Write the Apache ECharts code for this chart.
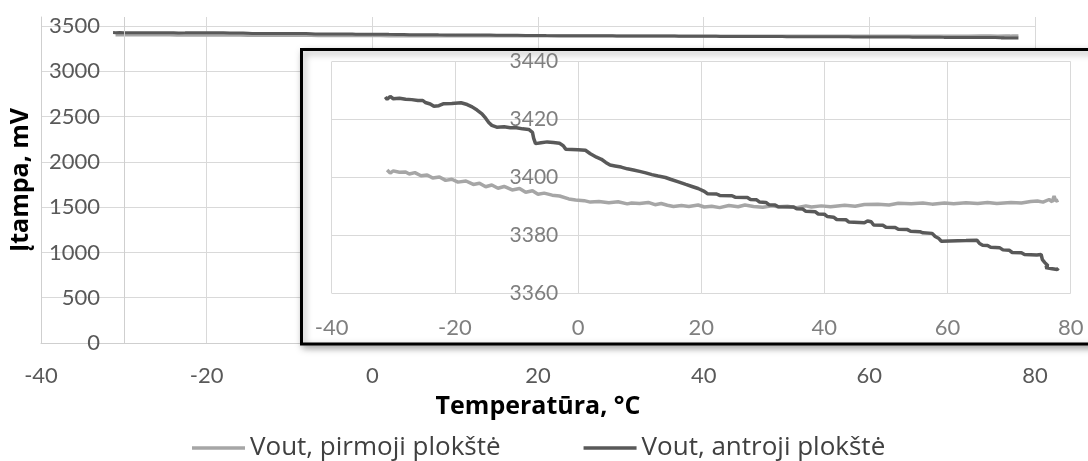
<!DOCTYPE html>
<html>
<head>
<meta charset="utf-8">
<script src="https://cdn.jsdelivr.net/npm/echarts@6/dist/echarts.min.js"></script>
<style>
  html, body { margin: 0; padding: 0; background: #fff; }
  #chart { width: 1088px; height: 461px; }
</style>
</head>
<body>
<div id="chart"></div>
<script>
// Series names, axis titles
const seriesNames = ['Vout, pirmoji plokštė', 'Vout, antroji plokštė'];
const xTitle = 'Temperatūra, °C';
const yTitle = 'Įtampa, mV';

// First board: temperature (°C) and output voltage (mV)
const plate1T = [-31.0, -30.5, -30.0, -29.0, -28.0, -27.4, -26.5, -25.5, -24.5, -23.6, -22.5, -21.5, -20.5, -19.5, -18.2,
  -17.0, -16.0, -15.0, -14.0, -13.0, -12.0, -10.7, -9.5, -8.5, -7.4, -6.5, -5.5, -4.2, -3.0, -1.5, -0.4,
  1.0, 2.0, 3.4, 5.0, 6.5, 8.0, 8.7, 10.0, 11.4, 12.5, 13.5, 14.5, 15.5, 16.8, 18.0, 19.5, 20.5, 21.7,
  23.0, 24.5, 26.0, 27.1, 28.5, 30.0, 31.5, 32.5, 34.0, 35.5, 37.0, 37.9, 39.5, 41.0, 43.3, 45.0, 46.5,
  48.7, 50.5, 52.0, 54.1, 56.0, 57.5, 59.5, 61.0, 63.0, 64.9, 66.5, 68.0, 70.3, 72.0, 73.5, 74.6, 75.5,
  76.5, 77.0, 77.3, 77.6, 78.0];
const plate1V = [3402.6, 3401.5, 3402.3, 3401.8, 3401.9, 3401.2, 3401.7, 3400.6, 3400.9, 3399.8, 3400.2, 3399.0, 3399.4, 3398.4, 3398.8,
  3397.6, 3398.0, 3396.8, 3397.4, 3396.3, 3396.9, 3395.7, 3396.2, 3394.9, 3395.4, 3394.2, 3394.6, 3393.9, 3393.6, 3392.6, 3392.2,
  3392.0, 3391.5, 3391.7, 3391.3, 3391.6, 3390.9, 3391.2, 3391.0, 3391.4, 3390.6, 3391.0, 3390.4, 3390.0, 3390.3, 3390.0, 3390.5, 3389.8, 3390.1,
  3389.6, 3390.3, 3389.9, 3390.5, 3390.0, 3389.7, 3390.2, 3389.9, 3390.1, 3389.6, 3390.2, 3389.8, 3390.2, 3389.9, 3390.4, 3390.1, 3390.7,
  3390.8, 3390.5, 3391.1, 3390.9, 3391.2, 3390.8, 3391.2, 3390.9, 3391.3, 3391.0, 3391.4, 3391.0, 3391.4, 3391.2, 3391.7, 3391.9, 3391.5,
  3392.4, 3391.6, 3393.6, 3391.8, 3392.2];

// Second board: temperature (°C) and output voltage (mV)
const plate2T = [-31.3, -31.0, -30.5, -30.0, -29.0, -28.0, -27.0, -26.0, -25.2, -24.8, -24.0, -23.4, -22.6, -21.8, -20.5,
  -19.0, -18.0, -17.2, -16.4, -15.6, -15.0, -14.5, -14.0, -13.2, -12.0, -11.0, -10.0, -9.0, -8.0, -7.4, -7.2,
  -6.9, -6.0, -5.0, -4.0, -3.0, -2.4, -2.0, -1.0, 0.0, 1.2, 2.0, 3.0, 3.8, 4.5, 5.2, 6.0, 7.0, 8.0, 9.0,
  10.0, 11.0, 12.0, 13.0, 14.2, 15.0, 16.3, 17.5, 18.5, 19.5,
  20.5, 21.0, 22.5, 23.0, 25.0, 25.5, 27.5, 28.0, 29.0, 29.5, 30.5, 31.0, 32.0, 32.5, 35.0, 35.5, 36.5, 37.0,
  38.5, 39.0, 40.0, 40.5, 41.5, 42.0, 43.5, 44.0, 46.5, 47.0, 47.6, 48.0, 49.5, 50.0, 51.5, 52.0, 53.5, 54.0,
  55.5, 56.0, 57.5, 58.0, 58.6, 59.0, 63.0, 64.8, 65.2, 65.7, 66.5, 67.0, 68.5, 69.0, 70.0, 70.5, 72.0, 72.5,
  74.5, 75.2, 75.4, 75.8, 76.3, 75.9, 77.0, 77.8, 78.0];
const plate2V = [3427.8, 3427.0, 3428.0, 3427.2, 3427.4, 3427.0, 3426.9, 3426.6, 3426.6, 3425.9, 3425.4, 3424.6, 3424.8, 3425.5, 3425.6,
  3425.8, 3425.2, 3424.4, 3423.3, 3422.0, 3420.5, 3419.0, 3418.0, 3417.4, 3417.5, 3417.2, 3417.2, 3416.8, 3416.6, 3415.6, 3413.5,
  3411.7, 3412.0, 3412.3, 3412.1, 3411.8, 3411.0, 3409.8, 3409.7, 3409.6, 3409.4, 3408.2, 3407.0, 3406.3, 3405.2, 3404.3, 3404.0, 3403.6, 3403.0, 3402.6,
  3402.1, 3401.6, 3401.0, 3400.5, 3400.0, 3399.4, 3398.5, 3397.6, 3396.9, 3396.2,
  3395.2, 3394.4, 3394.3, 3393.8, 3393.7, 3393.2, 3393.1, 3392.4, 3392.3, 3391.5, 3391.4, 3390.6, 3390.5, 3389.9, 3389.8, 3389.2, 3389.1, 3388.3,
  3388.2, 3387.4, 3387.3, 3386.5, 3386.3, 3385.5, 3385.4, 3384.6, 3384.4, 3385.0, 3384.7, 3383.6, 3383.5, 3382.8, 3382.7, 3382.1, 3382.0, 3381.4,
  3381.3, 3380.9, 3380.7, 3379.6, 3378.9, 3378.0, 3378.2, 3378.3, 3377.2, 3376.6, 3376.5, 3375.9, 3375.7, 3375.0, 3374.9, 3374.1, 3374.0, 3373.4,
  3373.2, 3373.4, 3371.6, 3370.6, 3369.5, 3368.9, 3368.5, 3368.2, 3368.7];

const pairs = (t, v) => t.map((x, i) => [x, v[i]]);
const plate1 = pairs(plate1T, plate1V);
const plate2 = pairs(plate2T, plate2V);

const FONT = 'Lato, "Open Sans", sans-serif';
const WIDE_FONT = '"Open Sans", Lato, sans-serif';
const GRID = '#d9d9d9';
const LIGHT = '#a6a6a6';
const DARK = '#595959';
const plain = v => String(v);
// thin horizontal bar used as the legend key
const LEGEND_KEY = 'path://M0,0 H53 V3.5 H0 Z';

const chart = echarts.init(document.getElementById('chart'), null, { renderer: 'canvas' });

chart.setOption({
  animation: false,
  textStyle: { fontFamily: FONT },
  grid: [
    { left: 41, right: 53, top: 17, bottom: 118, outerBoundsMode: 'none' },
    { left: 331.7, right: 17.3, top: 61.7, bottom: 167.7, outerBoundsMode: 'none' }
  ],
  legend: {
    data: seriesNames.map(n => ({ name: n, icon: LEGEND_KEY })),
    left: 187,
    top: 430,
    itemWidth: 53,
    itemHeight: 20,
    itemGap: 83,
    textStyle: { fontFamily: WIDE_FONT, fontSize: 26, color: '#404040' }
  },
  // Zoomed view frame with drop shadow
  graphic: {
    z: 5,
    elements: [{
      type: 'rect',
      z: 5,
      silent: true,
      shape: { x: 301.5, y: 49.5, width: 800, height: 294.5 },
      style: {
        fill: '#fff', stroke: '#000', lineWidth: 3,
        shadowBlur: 7, shadowOffsetX: 2, shadowOffsetY: 3, shadowColor: 'rgba(0,0,0,0.35)'
      }
    }]
  },
  xAxis: [
    {
      gridIndex: 0, type: 'value', min: -40, max: 80, interval: 20,
      axisLine: { lineStyle: { color: '#cfcfcf', width: 1 } },
      axisTick: { show: false },
      axisLabel: { color: DARK, fontSize: 22, margin: 22, fontFamily: FONT, formatter: plain },
      splitLine: { lineStyle: { color: GRID } },
      name: xTitle, nameLocation: 'middle', nameGap: 51,
      nameTextStyle: { color: '#000', fontWeight: 'bold', fontSize: 25, fontFamily: WIDE_FONT }
    },
    {
      gridIndex: 1, type: 'value', min: -40, max: 80, interval: 20, z: 10,
      axisLine: { show: false },
      axisTick: { show: false },
      axisLabel: { color: '#7f7f7f', fontSize: 22, margin: 24, fontFamily: FONT, formatter: plain },
      splitLine: { lineStyle: { color: GRID } }
    }
  ],
  yAxis: [
    {
      gridIndex: 0, type: 'value', min: 0, max: 3600, interval: 500,
      axisLine: { show: true, onZero: false, lineStyle: { color: '#cfcfcf' } },
      axisTick: { show: false },
      axisLabel: {
        inside: true, align: 'right', margin: 59, color: DARK, fontSize: 22, fontFamily: FONT,
        formatter: v => (v > 3500 ? '' : String(v))
      },
      splitLine: { lineStyle: { color: [GRID, GRID, GRID, GRID, GRID, GRID, GRID, GRID, 'rgba(0,0,0,0)'] } },
      name: yTitle, nameLocation: 'middle', nameGap: 2,
      nameTextStyle: { color: '#000', fontWeight: 'bold', fontSize: 25, fontFamily: WIDE_FONT }
    },
    {
      // value labels sit beside the 0 °C gridline
      gridIndex: 1, type: 'value', min: 3360, max: 3440, interval: 20, z: 10,
      offset: -247.6,
      axisLine: { show: false, onZero: false },
      axisTick: { show: false },
      axisLabel: { color: '#7f7f7f', fontSize: 21, margin: 21, fontFamily: FONT, formatter: plain },
      splitLine: { lineStyle: { color: GRID } }
    }
  ],
  series: [
    {
      name: seriesNames[0], type: 'line', xAxisIndex: 0, yAxisIndex: 0,
      data: plate1, symbol: 'none', z: 2,
      lineStyle: { color: LIGHT, width: 3 }, itemStyle: { color: LIGHT },
      markLine: {
        silent: true, symbol: 'none', label: { show: false },
        lineStyle: { color: '#cfcfcf', type: 'solid', width: 1 },
        data: [{ xAxis: -30 }]
      }
    },
    {
      name: seriesNames[1], type: 'line', xAxisIndex: 0, yAxisIndex: 0,
      data: plate2, symbol: 'none', z: 3,
      lineStyle: { color: DARK, width: 3 }, itemStyle: { color: DARK }
    },
    {
      name: seriesNames[0], type: 'line', xAxisIndex: 1, yAxisIndex: 1,
      data: plate1, symbol: 'none', z: 11,
      lineStyle: { color: LIGHT, width: 3.5 }, itemStyle: { color: LIGHT }
    },
    {
      name: seriesNames[1], type: 'line', xAxisIndex: 1, yAxisIndex: 1,
      data: plate2, symbol: 'none', z: 12,
      lineStyle: { color: DARK, width: 3.5 }, itemStyle: { color: DARK }
    }
  ]
});
</script>
</body>
</html>
